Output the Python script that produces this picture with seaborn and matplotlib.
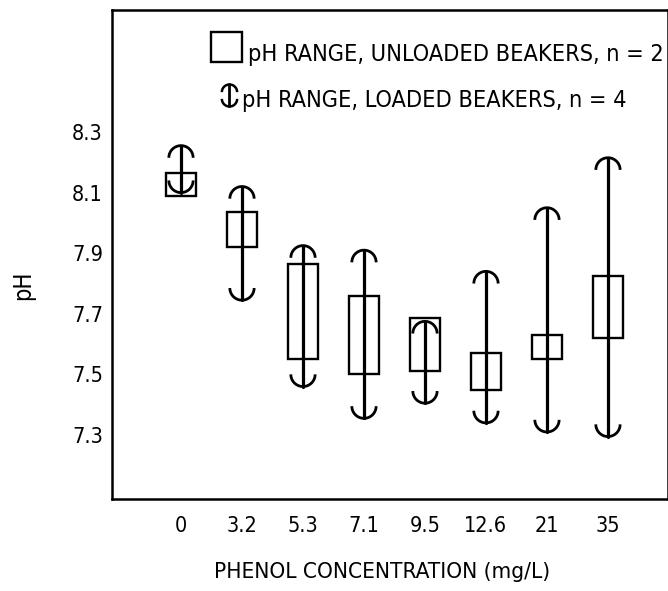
import numpy as np
import pandas as pd
import matplotlib
matplotlib.use("Agg")
import matplotlib.pyplot as plt
from matplotlib.path import Path
from matplotlib.markers import MarkerStyle
from matplotlib.patches import Rectangle
import seaborn as sns

# Phenol concentrations (mg/L) and pH ranges per treatment
concentrations = ["0", "3.2", "5.3", "7.1", "9.5", "12.6", "21", "35"]
unloaded_low = [8.09, 7.92, 7.55, 7.50, 7.51, 7.45, 7.55, 7.62]
unloaded_high = [8.165, 8.035, 7.865, 7.76, 7.685, 7.57, 7.63, 7.825]
loaded_low = [8.10, 7.745, 7.46, 7.355, 7.405, 7.34, 7.31, 7.295]
loaded_high = [8.255, 8.12, 7.925, 7.91, 7.675, 7.84, 8.05, 8.215]
y_ticks = [7.3, 7.5, 7.7, 7.9, 8.1, 8.3]
y_tick_labels = ["7.3", "7.5", "7.7", "7.9", "8.1", "8.3"]

sns.set_theme(style="white")
plt.rcParams["font.family"] = ["Liberation Sans Narrow", "DejaVu Sans"]
plt.rcParams["font.stretch"] = "condensed"
plt.rcParams["text.color"] = "black"
plt.rcParams["axes.labelcolor"] = "black"
plt.rcParams["xtick.color"] = "black"
plt.rcParams["ytick.color"] = "black"

fig = plt.figure(figsize=(6.68, 5.91), dpi=100)
ax = fig.add_axes([112 / 668, 92 / 591, 556 / 668, 489 / 591])

# Hollow boxes: pH range of the unloaded beakers
boxes = pd.DataFrame({
    "conc": concentrations,
    "low": unloaded_low,
    "span": np.subtract(unloaded_high, unloaded_low),
})
sns.barplot(data=boxes, x="conc", y="span", order=concentrations,
            bottom=boxes["low"].to_numpy(), width=0.49, fill=False,
            color="black", linewidth=1.7, errorbar=None, ax=ax)

# Range shafts for the loaded beakers
positions = np.arange(len(concentrations))
shafts = pd.DataFrame({
    "pos": np.repeat(positions, 2),
    "ph": np.column_stack([loaded_low, loaded_high]).ravel(),
    "conc": np.repeat(concentrations, 2),
})
sns.lineplot(data=shafts, x="pos", y="ph", units="conc", estimator=None,
             color="black", linewidth=2.3, legend=False, ax=ax)

# Arc end caps (apex sits on the range end)
t = np.linspace(0, np.pi, 40)
cap_top = MarkerStyle(Path(np.column_stack([np.cos(t), np.sin(t) - 1])),
                      fillstyle="none")
cap_bottom = MarkerStyle(Path(np.column_stack([np.cos(t), 1 - np.sin(t)])),
                         fillstyle="none")
sns.scatterplot(x=positions, y=loaded_high, marker=cap_top, s=17.5 ** 2,
                color="black", linewidth=2.0, legend=False, ax=ax)
sns.scatterplot(x=positions, y=loaded_low, marker=cap_bottom, s=17.5 ** 2,
                color="black", linewidth=2.0, legend=False, ax=ax)

# Axes frame, ticks and labels
ax.set_xlim(-1.131, 7.984)
ax.set_ylim(7.0888, 8.7026)
ax.set_xticks(positions)
ax.set_xticklabels(concentrations)
ax.set_yticks(y_ticks)
ax.set_yticklabels(y_tick_labels)
ax.tick_params(axis="y", direction="in", length=14.5, width=1.5, pad=6.5,
               labelsize=15.5)
ax.tick_params(axis="x", direction="in", length=11.5, width=1.5, pad=12.5,
               labelsize=15.5)
for side in ["left", "right", "top", "bottom"]:
    ax.spines[side].set_visible(True)
    ax.spines[side].set_color("black")
    ax.spines[side].set_linewidth(1.8)

ax.set_xlabel("PHENOL CONCENTRATION (mg/L)", fontsize=16.2)
ax.xaxis.set_label_coords(0.485, -0.128)
ax.set_ylabel("pH", fontsize=17)
ax.yaxis.set_label_coords(-0.138, 0.4376)

# Key
ax.add_patch(Rectangle((0.178, 0.894), 0.0559, 0.0613, transform=ax.transAxes,
                       fill=False, edgecolor="black", linewidth=1.7,
                       clip_on=False))
ax.text(0.245, 0.8957, "pH RANGE, UNLOADED BEAKERS, n = 2",
        transform=ax.transAxes, fontsize=16.8, va="baseline", ha="left")
ax.plot([0.21, 0.21], [0.804, 0.848], transform=ax.transAxes, color="black",
        linewidth=2.0, clip_on=False)
ax.plot([0.21], [0.848], transform=ax.transAxes, marker=cap_top,
        markersize=11, markeredgecolor="black", markeredgewidth=1.8,
        linestyle="none", clip_on=False)
ax.plot([0.21], [0.804], transform=ax.transAxes, marker=cap_bottom,
        markersize=11, markeredgecolor="black", markeredgewidth=1.8,
        linestyle="none", clip_on=False)
ax.text(0.234, 0.8016, "pH RANGE, LOADED BEAKERS, n = 4",
        transform=ax.transAxes, fontsize=16.8, va="baseline", ha="left")

fig.savefig("out.png", dpi=100, facecolor="white")
